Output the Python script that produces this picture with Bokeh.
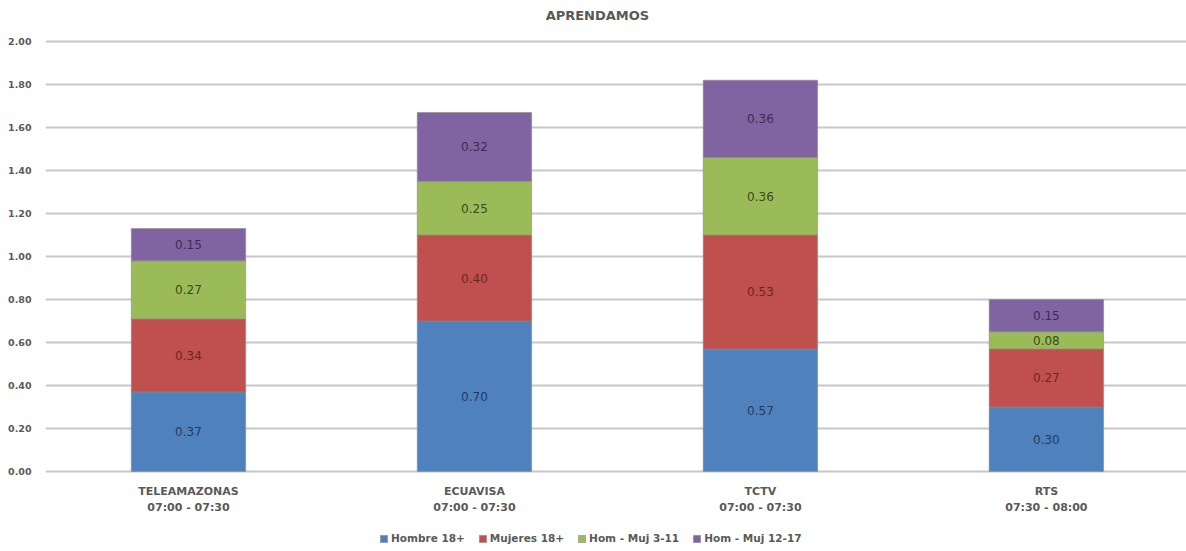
from bokeh.plotting import figure
from bokeh.models import ColumnDataSource, Range1d, FixedTicker, Legend, LegendItem, NumeralTickFormatter, Label
from bokeh.core.properties import value
from bokeh.embed import file_html
from bokeh.resources import INLINE

title_text = "APRENDAMOS"
categories = ["TELEAMAZONAS\n07:00 - 07:30", "ECUAVISA\n07:00 - 07:30", "TCTV\n07:00 - 07:30", "RTS\n07:30 - 08:00"]
series_names = ["Hombre 18+", "Mujeres 18+", "Hom - Muj 3-11", "Hom - Muj 12-17"]
hombre_18 = [0.37, 0.70, 0.57, 0.30]
mujeres_18 = [0.34, 0.40, 0.53, 0.27]
hm_3_11 = [0.27, 0.25, 0.36, 0.08]
hm_12_17 = [0.15, 0.32, 0.36, 0.15]
y_ticks = [0.0, 0.2, 0.4, 0.6, 0.8, 1.0, 1.2, 1.4, 1.6, 1.8, 2.0]

colors = ["#4F81BD", "#C0504D", "#9BBB59", "#8064A2"]
label_colors = ["#233c5e", "#6e2624", "#3a4a1c", "#3a2c55"]
keys = ["s0", "s1", "s2", "s3"]
series = [hombre_18, mujeres_18, hm_3_11, hm_12_17]

xs = list(range(len(categories)))
data = {"x": xs}
for k, s in zip(keys, series):
    data[k] = s
src = ColumnDataSource(data)

Y_TOP = 2.1907
p = figure(width=1186, height=551, output_backend="svg", toolbar_location=None,
           x_range=Range1d(-0.5, 3.49), y_range=Range1d(-0.372, Y_TOP),
           min_border_left=45, min_border_right=0, min_border_top=0, min_border_bottom=0)
p.outline_line_color = None
p.background_fill_color = "white"

title = Label(x=1.43, y=Y_TOP - 0.07, text=title_text, text_align="center", text_baseline="middle",
              text_font="DejaVu Sans", text_font_size="13px", text_font_style="bold",
              text_color="#595959")
p.add_layout(title)

renderers = p.vbar_stack(keys, x="x", width=0.4, source=src, fill_color=colors,
                         line_color="#8a8a8a", line_alpha=0.6, line_width=1)

# value labels at segment midpoints
cum = [0.0] * len(categories)
for s, lc in zip(series, label_colors):
    mids = [c + v / 2 for c, v in zip(cum, s)]
    cum = [c + v for c, v in zip(cum, s)]
    lsrc = ColumnDataSource({"x": xs, "y": mids, "t": ["%.2f" % v for v in s]})
    p.text(x="x", y="y", text="t", source=lsrc, text_align="center", text_baseline="middle",
           text_font=value("DejaVu Sans"), text_font_size="12px", text_color=lc)

# category labels below the baseline
csrc = ColumnDataSource({"x": xs, "y": [0] * len(xs), "t": categories})
p.text(x="x", y="y", text="t", source=csrc, text_align="center", text_baseline="top",
       y_offset=13, text_line_height=1.25,
       text_font=value("DejaVu Sans"), text_font_size="11px", text_font_style="bold",
       text_color="#595959")

p.xgrid.visible = False
p.ygrid.ticker = FixedTicker(ticks=y_ticks)
p.ygrid.grid_line_color = "#c8c8c8"
p.ygrid.grid_line_width = 2

p.xaxis.visible = False

p.yaxis.ticker = FixedTicker(ticks=y_ticks)
p.yaxis.formatter = NumeralTickFormatter(format="0.00")
p.yaxis.axis_line_color = None
p.yaxis.major_tick_line_color = None
p.yaxis.minor_tick_line_color = None
p.yaxis.major_label_text_font = "DejaVu Sans"
p.yaxis.major_label_text_font_size = "9.5px"
p.yaxis.major_label_text_font_style = "bold"
p.yaxis.major_label_text_color = "#595959"
p.yaxis.major_label_standoff = 8

legend = Legend(items=[LegendItem(label=n, renderers=[r]) for n, r in zip(series_names, renderers)],
                orientation="horizontal", location=(334, 7))
legend.label_text_font = "DejaVu Sans"
legend.label_text_font_size = "10.5px"
legend.label_text_font_style = "bold"
legend.label_text_color = "#595959"
legend.glyph_width = 9
legend.glyph_height = 9
legend.spacing = 13
legend.label_standoff = 3
legend.border_line_color = None
legend.background_fill_alpha = 0
legend.padding = 4
legend.margin = 0
p.add_layout(legend, "center")

open("out.html", "w").write(file_html(p, INLINE))
